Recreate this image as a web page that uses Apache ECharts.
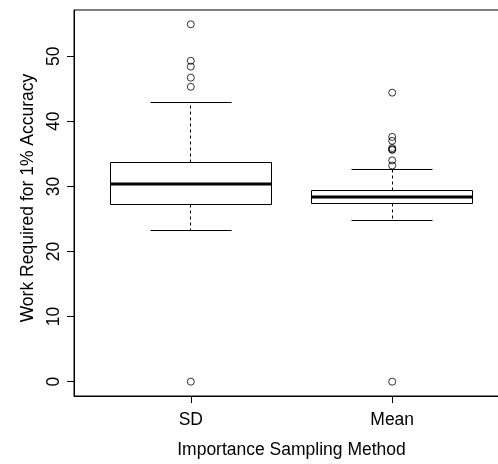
<!DOCTYPE html>
<html>
<head>
<meta charset="utf-8">
<script src="https://cdn.jsdelivr.net/npm/echarts@6/dist/echarts.min.js"></script>
<style>
html,body{margin:0;padding:0;overflow:hidden;background:#fff;}
#c{width:520px;height:464px;}
</style>
</head>
<body>
<div id="c"></div>
<script>
// ---- data ----
var categories = ['SD', 'Mean'];
var categoryPositions = [1, 2];
// [lower whisker, Q1, median, Q3, upper whisker]
var sdStats   = [23.3, 27.2, 30.3, 33.6, 42.9];
var meanStats = [24.7, 27.3, 28.4, 29.4, 32.6];
var sdOutliers   = [54.9, 49.3, 48.4, 46.7, 45.3, 0];
var meanOutliers = [44.4, 37.6, 37.0, 35.9, 35.7, 35.6, 34.0, 33.2, 0];
var yTicks = [0, 10, 20, 30, 40, 50];

var FONT = '"Liberation Sans", Arial, Helvetica, sans-serif';
var FS = 17.5;

var boxData = [
  [categoryPositions[0]].concat(sdStats),
  [categoryPositions[1]].concat(meanStats)
];
var outlierData = [];
sdOutliers.forEach(function(v){ outlierData.push([categoryPositions[0], v]); });
meanOutliers.forEach(function(v){ outlierData.push([categoryPositions[1], v]); });

function crisp(v){ return Math.round(v - 0.5) + 0.5; }

var chart = echarts.init(document.getElementById('c'), null, {renderer: 'canvas'});
chart.setOption({
  animation: false,
  backgroundColor: '#fff',
  grid: {
    left: 74, top: 10, width: 435, height: 389,
    show: true, borderColor: '#000', borderWidth: 1, backgroundColor: 'transparent'
  },
  xAxis: {
    type: 'value', min: 0.42, max: 2.58,
    splitLine: {show: false},
    axisLine: {show: true, onZero: false, lineStyle: {color: '#000', width: 1}},
    axisTick: {show: true, length: 7, customValues: categoryPositions, lineStyle: {color: '#000'}},
    axisLabel: {
      customValues: categoryPositions, margin: 15,
      color: '#000', fontFamily: FONT, fontSize: FS,
      formatter: function(v){ var i = categoryPositions.indexOf(v); return i >= 0 ? categories[i] : ''; }
    },
    name: 'Importance Sampling Method', nameLocation: 'middle', nameGap: 45,
    nameTextStyle: {color: '#000', fontFamily: FONT, fontSize: FS}
  },
  yAxis: {
    type: 'value', min: -2.2, max: 57.1,
    splitLine: {show: false},
    axisLine: {show: true, onZero: false, lineStyle: {color: '#000', width: 1}},
    axisTick: {show: true, length: 7, customValues: yTicks, lineStyle: {color: '#000'}},
    axisLabel: {
      customValues: yTicks, rotate: 90, margin: 11,
      color: '#000', fontFamily: FONT, fontSize: FS
    },
    name: 'Work Required for 1% Accuracy', nameLocation: 'middle', nameGap: 34,
    nameTextStyle: {color: '#000', fontFamily: FONT, fontSize: FS, padding: [0, 0, 0, 10]}
  },
  series: [
    {
      type: 'custom',
      data: boxData,
      encode: {x: 0, y: [1, 2, 3, 4, 5]},
      renderItem: function(params, api){
        var x = api.value(0);
        var lo = api.value(1), q1 = api.value(2), md = api.value(3), q3 = api.value(4), hi = api.value(5);
        var bw = 0.4, cw = 0.2;
        var xl = crisp(api.coord([x - bw, 0])[0]);
        var xr = crisp(api.coord([x + bw, 0])[0]);
        var cl = crisp(api.coord([x - cw, 0])[0]);
        var cr = crisp(api.coord([x + cw, 0])[0]);
        var xc = crisp(api.coord([x, 0])[0]);
        var yLo = crisp(api.coord([x, lo])[1]);
        var yQ1 = crisp(api.coord([x, q1])[1]);
        var yMd = Math.round(api.coord([x, md])[1]);
        var yQ3 = crisp(api.coord([x, q3])[1]);
        var yHi = crisp(api.coord([x, hi])[1]);
        var solid = {stroke: '#000', lineWidth: 1, fill: null};
        var dashed = {stroke: '#000', lineWidth: 1, lineDash: [3, 3], fill: null};
        return {
          type: 'group',
          children: [
            {type: 'line', shape: {x1: xc, y1: yQ3, x2: xc, y2: yHi}, style: dashed},
            {type: 'line', shape: {x1: xc, y1: yQ1, x2: xc, y2: yLo}, style: dashed},
            {type: 'line', shape: {x1: cl, y1: yHi, x2: cr, y2: yHi}, style: solid},
            {type: 'line', shape: {x1: cl, y1: yLo, x2: cr, y2: yLo}, style: solid},
            {type: 'rect', shape: {x: xl, y: yQ3, width: xr - xl, height: yQ1 - yQ3}, style: {stroke: '#000', lineWidth: 1, fill: '#fff'}},
            {type: 'line', shape: {x1: xl, y1: yMd, x2: xr, y2: yMd}, style: {stroke: '#000', lineWidth: 3}}
          ]
        };
      }
    },
    {
      type: 'scatter',
      data: outlierData,
      symbol: 'circle',
      symbolSize: 7,
      itemStyle: {color: 'rgba(0,0,0,0)', borderColor: '#000', borderWidth: 1},
      z: 5
    }
  ]
});
</script>
</body>
</html>
